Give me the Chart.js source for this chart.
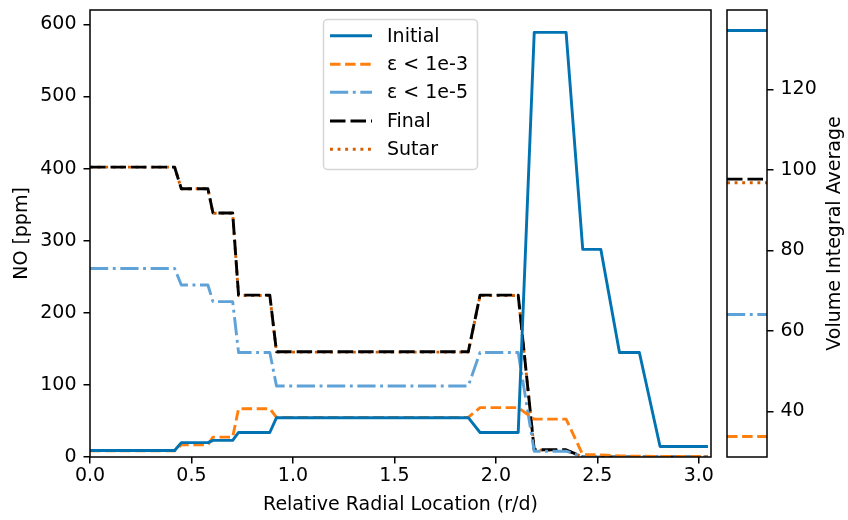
<!DOCTYPE html>
<html><head><meta charset="utf-8">
<script src="https://cdn.jsdelivr.net/npm/chart.js@4"></script>
<style>
html,body{margin:0;padding:0;background:#fff;}
#wrap{position:relative;width:848px;height:520px;background:#fff;}
#c1{position:absolute;left:0;top:0;}
#c2{position:absolute;left:720px;top:0;}
</style></head><body>
<div id="wrap">
<canvas id="c1" width="720" height="520"></canvas>
<canvas id="c2" width="128" height="520"></canvas>
</div>
<script>
// ---- data ----
const radialLocation = [0.000, 0.417, 0.450, 0.581, 0.606, 0.703, 0.732, 0.886, 0.919, 1.864, 1.922, 2.110, 2.189, 2.346, 2.428, 2.517, 2.609, 2.707, 2.809, 3.045];
const initialNO = [9, 9, 20, 20, 23, 23, 34, 34, 54.5, 54.5, 34, 34, 589, 589, 288, 288, 145, 145, 14.5, 14.5];
const eps3NO    = [8.5, 8.5, 17, 17, 27.5, 27.5, 67, 67, 55, 55, 68.5, 68.5, 52.5, 52.5, 3.2, 3, 1.5, 1, 0.8, 0.5];
const eps5NO    = [261.5, 261.5, 238.5, 238.5, 215.5, 215.5, 145, 145, 98.5, 98.5, 145, 145, 8, 8, 0.3, 0.2, 0, 0, 0, 0];
const finalNO   = [402, 402, 372, 372, 338.5, 338.5, 224.5, 224.5, 146, 146, 224.5, 224.5, 10, 10, 0.2, 0.1, 0, 0, 0, 0];
const sutarNO   = [402, 402, 372, 372, 338, 338, 224, 224, 145.5, 145.5, 224, 224, 9.5, 9.5, 0.2, 0.1, 0, 0, 0, 0];
const seriesLabels = ['Initial', 'ε < 1e-3', 'ε < 1e-5', 'Final', 'Sutar'];
const volumeAverage = [134.6, 33.8, 64.1, 97.7, 96.8];
const xTickValues = [0, 0.5, 1.0, 1.5, 2.0, 2.5, 3.0];
const yTickValues = [0, 100, 200, 300, 400, 500, 600];
const avgTickValues = [40, 60, 80, 100, 120];

// ---- styles ----
const FONT = "'DejaVu Sans', sans-serif";
const FS = 19;
const styles = [
  {color: '#0173b2', dash: []},
  {color: '#ff7f0e', dash: [10.5, 4.6]},
  {color: '#5fa2d8', dash: [18.2, 4.6, 2.9, 4.6]},
  {color: '#000000', dash: [15.5, 5]},
  {color: '#d55e00', dash: [2.9, 4.7]}
];
const LW = 2.9;
Chart.defaults.color = '#000';
Chart.defaults.font.family = FONT;
Chart.defaults.font.size = FS;

const seriesValues = [initialNO, eps3NO, eps5NO, finalNO, sutarNO];

function mkDataset(i, data) {
  return {
    label: seriesLabels[i],
    data: data,
    borderColor: styles[i].color,
    backgroundColor: styles[i].color,
    borderDash: styles[i].dash,
    borderWidth: LW,
    borderCapStyle: 'butt',
    borderJoinStyle: 'round',
    pointRadius: 0,
    tension: 0,
    fill: false
  };
}

const spinePlugin = {
  id: 'spines',
  afterDatasetsDraw(chart) {
    const a = chart.chartArea, ctx = chart.ctx;
    ctx.save();
    ctx.strokeStyle = '#000';
    ctx.lineWidth = 1.5;
    ctx.setLineDash([]);
    ctx.strokeRect(a.left, a.top, a.right - a.left, a.bottom - a.top);
    ctx.restore();
  }
};

const legendPlugin = {
  id: 'mplLegend',
  afterDraw(chart) {
    const ctx = chart.ctx;
    const bx = 323.5, by = 19.5, bw = 154, bh = 150, r = 4;
    ctx.save();
    ctx.beginPath();
    ctx.moveTo(bx + r, by);
    ctx.arcTo(bx + bw, by, bx + bw, by + bh, r);
    ctx.arcTo(bx + bw, by + bh, bx, by + bh, r);
    ctx.arcTo(bx, by + bh, bx, by, r);
    ctx.arcTo(bx, by, bx + bw, by, r);
    ctx.closePath();
    ctx.fillStyle = 'rgba(255,255,255,0.8)';
    ctx.fill();
    ctx.strokeStyle = 'rgba(204,204,204,0.8)';
    ctx.lineWidth = 1.5;
    ctx.stroke();
    const rows = [35.7, 64.3, 92.3, 121, 149.3];
    chart.data.datasets.forEach((ds, i) => {
      const y = rows[i];
      ctx.beginPath();
      ctx.setLineDash(ds.borderDash);
      ctx.lineDashOffset = 0;
      ctx.strokeStyle = ds.borderColor;
      ctx.lineWidth = LW;
      ctx.lineCap = 'butt';
      ctx.moveTo(330, y);
      ctx.lineTo(372, y);
      ctx.stroke();
      ctx.setLineDash([]);
      ctx.fillStyle = '#000';
      ctx.font = FS + 'px ' + FONT;
      ctx.textBaseline = 'middle';
      ctx.textAlign = 'left';
      ctx.fillText(ds.label, 387, y + 1);
    });
    ctx.restore();
  }
};

function fixY(width) {
  return function (scale) {
    scale.width = width;
    scale.paddingTop = 0; scale.paddingBottom = 0;
    scale.paddingLeft = 0; scale.paddingRight = 0;
  };
}
function fixX(height) {
  return function (scale) {
    scale.height = height;
    scale.paddingTop = 0; scale.paddingBottom = 0;
    scale.paddingLeft = 0; scale.paddingRight = 0;
  };
}
const tickGrid = {display: true, drawOnChartArea: false, drawTicks: true, tickLength: 6.5, color: '#000', lineWidth: 1.5};

// ---- main chart ----
new Chart(document.getElementById('c1'), {
  type: 'line',
  data: {
    datasets: seriesValues.map((vals, i) => mkDataset(i, radialLocation.map((x, k) => ({x: x, y: vals[k]}))))
  },
  options: {
    responsive: false,
    animation: false,
    layout: {padding: {left: 0, right: 9, top: 10, bottom: 0}},
    plugins: {legend: {display: false}, tooltip: {enabled: false}},
    scales: {
      x: {
        type: 'linear', min: 0, max: 3.06,
        afterBuildTicks: s => { s.ticks = xTickValues.map(v => ({value: v})); },
        afterFit: fixX(63),
        ticks: {autoSkip: false, maxRotation: 0, padding: 1, callback: v => Number(v).toFixed(1), font: {size: FS}},
        grid: tickGrid,
        border: {display: false},
        title: {display: true, text: 'Relative Radial Location (r/d)', font: {size: FS}, padding: {top: 0, bottom: 4}}
      },
      y: {
        type: 'linear', min: 0, max: 620,
        afterBuildTicks: s => { s.ticks = yTickValues.map(v => ({value: v})); },
        afterFit: fixY(90),
        ticks: {autoSkip: false, padding: 7, callback: v => String(v), font: {size: FS}},
        grid: tickGrid,
        border: {display: false},
        title: {display: true, text: 'NO [ppm]', font: {size: FS}, padding: {top: 10.5, bottom: 0}}
      }
    }
  },
  plugins: [spinePlugin, legendPlugin]
});

// ---- volume integral average panel ----
const rightTitlePlugin = {
  id: 'rightTitle',
  afterDraw(chart) {
    const ctx = chart.ctx, a = chart.chartArea;
    ctx.save();
    ctx.translate(115, (a.top + a.bottom) / 2);
    ctx.rotate(-Math.PI / 2);
    ctx.font = FS + 'px ' + FONT;
    ctx.fillStyle = '#000';
    ctx.textAlign = 'center';
    ctx.textBaseline = 'middle';
    ctx.fillText('Volume Integral Average', 0, 0);
    ctx.restore();
  }
};

new Chart(document.getElementById('c2'), {
  type: 'line',
  data: {
    datasets: volumeAverage.map((v, i) => mkDataset(i, [{x: 0, y: v}, {x: 1, y: v}]))
  },
  options: {
    responsive: false,
    animation: false,
    layout: {padding: {left: 7, right: 0, top: 10, bottom: 63}},
    plugins: {legend: {display: false}, tooltip: {enabled: false}},
    scales: {
      x: {type: 'linear', min: 0, max: 1, display: false},
      y: {
        type: 'linear', position: 'right', min: 28.7, max: 139.7,
        afterBuildTicks: s => { s.ticks = avgTickValues.map(v => ({value: v})); },
        afterFit: fixY(81),
        ticks: {autoSkip: false, padding: 7, callback: v => String(v), font: {size: FS}},
        grid: tickGrid,
        border: {display: false},
        title: {display: false}
      }
    }
  },
  plugins: [spinePlugin, rightTitlePlugin]
});
</script>
</body></html>
